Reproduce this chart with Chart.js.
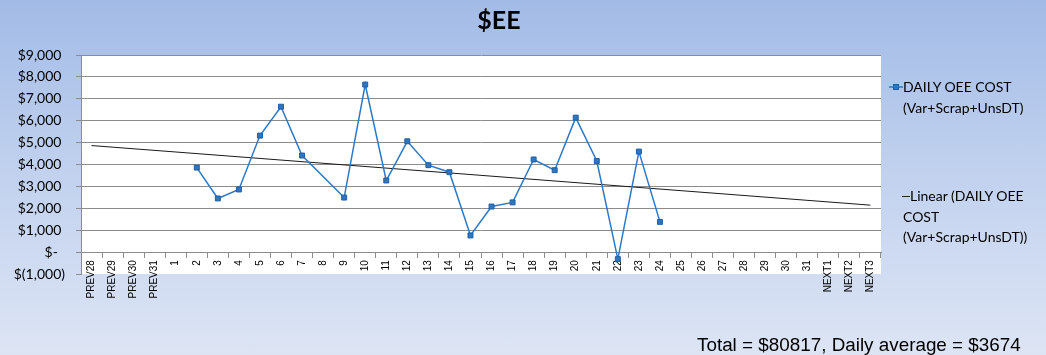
<!DOCTYPE html>
<html>
<head>
<meta charset="utf-8">
<script src="https://cdn.jsdelivr.net/npm/chart.js@4.4.1/dist/chart.umd.min.js"></script>
<style>
  html, body { margin: 0; padding: 0; }
  #wrap {
    position: relative; width: 1046px; height: 355px; overflow: hidden;
    background: linear-gradient(to bottom, #a2bbe6 0%, #bfd0ee 45%, #dde5f4 100%);
  }
  #chart { position: absolute; left: 0; top: 0; }
  .txt { position: absolute; white-space: nowrap; color: #000; z-index: 2; }
  #title { left: 399px; width: 200px; top: 7px; text-align: center;
           font: bold 25px/25px Lato, sans-serif; }
  .leg { font: 14px/20.5px Lato, sans-serif; }
  #total { left: 697px; top: 335.5px; font: 18.85px/18.85px "Liberation Sans", Arial, sans-serif; }
  .key { position: absolute; z-index: 2; }
</style>
</head>
<body>
<div id="wrap">
  <canvas id="chart" width="1046" height="355"></canvas>
  <div id="title" class="txt">$EE</div>

  <svg class="key" style="left:889px; top:82px;" width="14" height="10">
    <line x1="0" y1="5" x2="14" y2="5" stroke="#2b79c9" stroke-width="1.5"/>
    <rect x="4.5" y="2.5" width="5" height="5" fill="#2f75bf" stroke="#1f5fa5" stroke-width="1"/>
  </svg>
  <div class="txt leg" style="left:903px; top:77px;">DAILY OEE COST<br>(Var+Scrap+UnsDT)</div>

  <svg class="key" style="left:902px; top:191px;" width="8" height="10">
    <line x1="0" y1="5.5" x2="8" y2="5.5" stroke="#222" stroke-width="1"/>
  </svg>
  <div class="txt leg" style="left:910px; top:186px;">Linear (DAILY OEE</div>
  <div class="txt leg" style="left:903px; top:206.5px;">COST<br>(Var+Scrap+UnsDT))</div>

  <div id="total" class="txt">Total = $80817, Daily average = $3674</div>
</div>
<script>
const categories = ['PREV28','PREV29','PREV30','PREV31',
  '1','2','3','4','5','6','7','8','9','10','11','12','13','14','15','16',
  '17','18','19','20','21','22','23','24','25','26','27','28','29','30','31',
  'NEXT1','NEXT2','NEXT3'];

const dailyOeeCost = [null, null, null, null,
  null, 3860, 2450, 2860, 5320, 6640, 4410, null, 2490, 7650, 3270, 5060,
  3970, 3650, 760, 2080, 2270, 4230, 3740, 6140, 4160, -320, 4590, 1380,
  null, null, null, null, null, null, null,
  null, null, null];

const trendCategories = ['PREV28', 'NEXT3'];
const trendValues = [4865, 2143];

const yTickValues = [-1000, 0, 1000, 2000, 3000, 4000, 5000, 6000, 7000, 8000, 9000];
const yTickLabels = ['$(1,000)', '$-  ', '$1,000 ', '$2,000 ', '$3,000 ', '$4,000 ',
  '$5,000 ', '$6,000 ', '$7,000 ', '$8,000 ', '$9,000 '];

const GRID = '#8c8c8c';

const whiteArea = {
  id: 'whiteArea',
  beforeDraw(chart) {
    const a = chart.chartArea, c = chart.ctx;
    c.save();
    c.fillStyle = '#ffffff';
    c.fillRect(a.left, a.top, a.right - a.left, a.bottom - a.top);
    c.restore();
  }
};

new Chart(document.getElementById('chart'), {
  type: 'line',
  data: {
    labels: categories,
    datasets: [
      {
        label: 'DAILY OEE COST (Var+Scrap+UnsDT)',
        data: dailyOeeCost,
        borderColor: '#2b79c9',
        borderWidth: 1.5,
        backgroundColor: '#2f75bf',
        pointStyle: 'rect',
        pointRadius: 3.5,
        pointBorderWidth: 1,
        pointBorderColor: '#1f5fa5',
        pointBackgroundColor: '#2f75bf',
        spanGaps: true,
        tension: 0,
        order: 1
      },
      {
        label: 'Linear (DAILY OEE COST (Var+Scrap+UnsDT))',
        data: trendCategories.map((c, i) => ({ x: c, y: trendValues[i] })),
        borderColor: '#1a1a1a',
        borderWidth: 1,
        pointRadius: 0,
        spanGaps: true,
        tension: 0,
        order: 2
      }
    ]
  },
  options: {
    responsive: false,
    devicePixelRatio: 1,
    animation: false,
    layout: { padding: { left: 0, right: 165, top: 55, bottom: 81 } },
    plugins: {
      legend: { display: false },
      title: { display: false },
      tooltip: { enabled: false }
    },
    scales: {
      x: {
        type: 'category',
        position: { y: 0 },
        offset: true,
        grid: {
          display: true,
          drawOnChartArea: false,
          drawTicks: true,
          tickLength: 5,
          offset: true,
          color: GRID
        },
        border: { display: true, color: GRID, width: 1 },
        ticks: {
          autoSkip: false,
          minRotation: 90,
          maxRotation: 90,
          padding: 3,
          color: '#000',
          font: { family: 'Liberation Sans', size: 10 }
        }
      },
      y: {
        min: -1000,
        max: 9000,
        afterFit(scale) { scale.width = 81; },
        afterBuildTicks(scale) { scale.ticks = yTickValues.map(v => ({ value: v })); },
        grid: {
          color: ctx => (ctx.tick && ctx.tick.value === -1000) ? 'rgba(0,0,0,0)' : GRID,
          tickColor: GRID,
          tickLength: 5,
          lineWidth: 1
        },
        border: { display: true, color: GRID, width: 1 },
        ticks: {
          padding: 11,
          color: '#000',
          font: { family: 'Lato', size: 14 },
          callback: v => yTickLabels[yTickValues.indexOf(v)]
        }
      }
    }
  },
  plugins: [whiteArea]
});
</script>
</body>
</html>
